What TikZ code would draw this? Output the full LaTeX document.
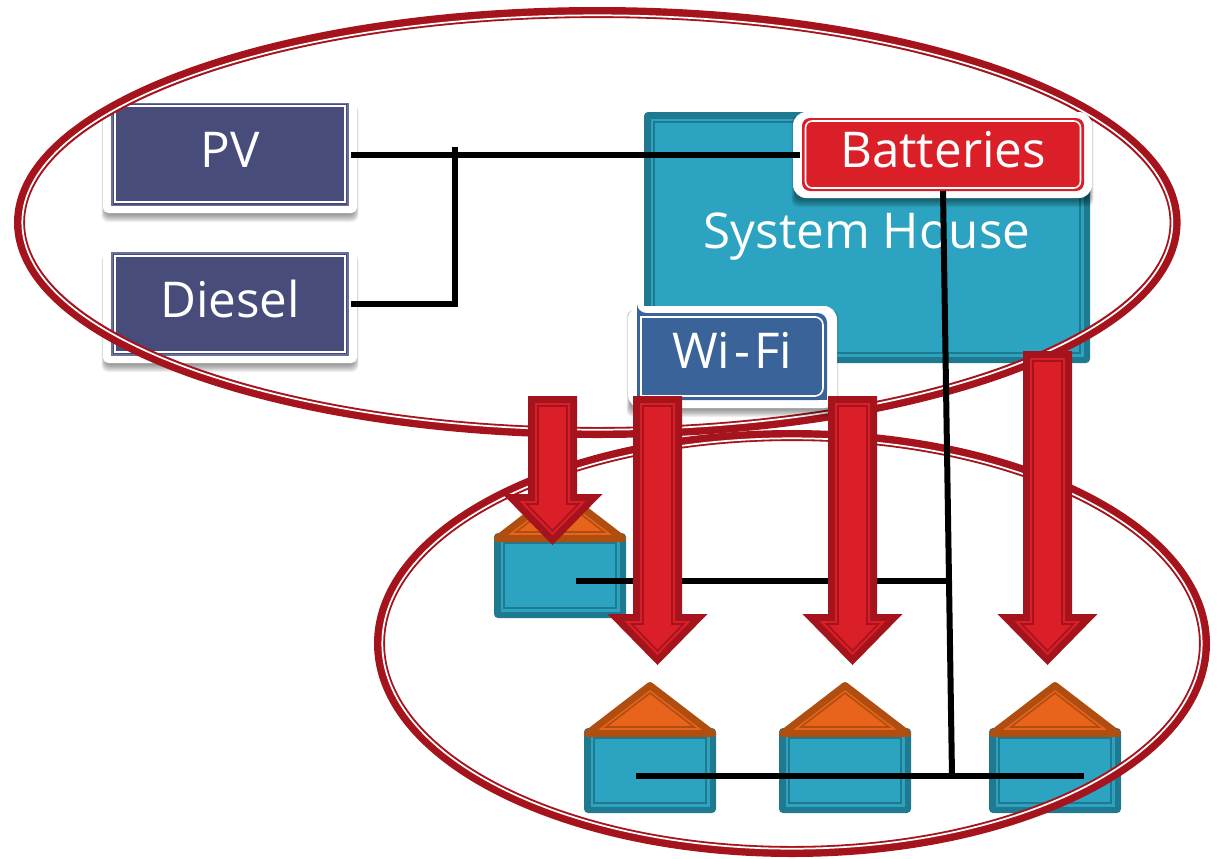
\documentclass[tikz,border=0pt]{standalone}
\usepackage{fontspec}
\setmainfont{Open Sans}
\usetikzlibrary{calc}
\definecolor{teal1}{HTML}{2CA3C0}
\definecolor{teal2}{HTML}{1F7A90}
\definecolor{navy1}{HTML}{484C7A}
\definecolor{navy2}{HTML}{6B6F9E}
\definecolor{blue1}{HTML}{3A6399}
\definecolor{red1}{HTML}{DA1F28}
\definecolor{red2}{HTML}{A5141C}
\definecolor{org1}{HTML}{E8641C}
\definecolor{org2}{HTML}{B04E10}
\tikzset{
  px/.style={x=0.75pt,y=-0.75pt},
  plate/.style={fill=white,rounded corners=4pt},
  boxlabel/.style={text=white,font=\fontsize{37}{44}\selectfont,inner sep=0pt,outer sep=0pt,rectangle,text height=19.5pt,text depth=0pt},
  wire/.style={draw=black,line width=4.5pt,line join=miter},
  ringouter/.style={draw=red2,line width=8.25pt},
  ringinner/.style={draw=white,line width=1.3pt},
}
% soft shadow under a plate: left, top, right, bottom
\newcommand{\softshadow}[4]{%
  \foreach \d in {1,...,8}{
    \fill[black,opacity=.06,rounded corners=5pt] ({#1-2+\d/2},{#2+4}) rectangle ({#3+2-\d/2},{#4+10-\d});
  }
}
% rounded box with band and thin inner line: left, top, right, bottom
\newcommand{\bandrect}[4]{%
  \fill[teal2,rounded corners=3pt] (#1,#2) rectangle (#3,#4);
  \fill[teal1] ({#1+6.5},{#2+6.5}) rectangle ({#3-6.5},{#4-6.5});
  \draw[teal2,line width=1.2pt] ({#1+10},{#2+10}) rectangle ({#3-10},{#4-10});
}
\newcommand{\houseshape}[2]{%
  \bandrect{#1}{#2+47}{#1+132}{#2+132}
  \draw[org2,fill=org1,line width=5.25pt,line join=round]
    ({#1+3.5},{#2+52.5}) -- ({#1+66},{#2+4.5}) -- ({#1+128.5},{#2+52.5}) -- cycle;
  \draw[org2,line width=1.2pt] ({#1+22},{#2+46}) -- ({#1+66},{#2+12}) -- ({#1+110},{#2+46}) -- cycle;
}
% inset polygon of a block arrow: d, cx, top, head y
\newcommand{\arrowpoly}[4]{
  ({#2-24.5+#1},{#3+#1}) -- ({#2-24.5+#1},{#4+#1}) -- ({#2-50+2.41*#1},{#4+#1}) --
  ({#2},{#4+51-1.41*#1}) -- ({#2+50-2.41*#1},{#4+#1}) -- ({#2+24.5-#1},{#4+#1}) --
  ({#2+24.5-#1},{#3+#1}) -- cycle}
\newcommand{\blockarrow}[3]{%
  \fill[red2] \arrowpoly{0}{#1}{#2}{#3};
  \fill[red1] \arrowpoly{7}{#1}{#2}{#3};
  \draw[red2,line width=1.2pt] \arrowpoly{10}{#1}{#2}{#3};
}
\begin{document}
\begin{tikzpicture}[px]
\useasboundingbox (0,0) rectangle (1218,858);
% system house
\bandrect{644}{112}{1090}{363}
\node[boxlabel] (house) at (867,235) {System House};
% PV and Diesel
\softshadow{103}{100}{357}{213}
\fill[plate] (103,100) rectangle (357,213);
\softshadow{103}{250}{357}{363}
\fill[plate] (103,250) rectangle (357,363);
\node[boxlabel,fill=navy1,draw=navy2,line width=.8pt,minimum width=177pt,minimum height=76.5pt] (pv) at (230,154.5) {PV};
\draw[white,line width=1.5pt] (115,106) rectangle (345,202);
\node[boxlabel,fill=navy1,draw=navy2,line width=.8pt,minimum width=177pt,minimum height=76.5pt] (diesel) at (230,304) {Diesel};
\draw[white,line width=1.5pt] (115,256) rectangle (345,352);
% houses
\houseshape{494}{486}
\houseshape{584}{681}
\houseshape{779}{681}
\houseshape{989}{681}
% rings
\draw[ringouter] (597.3,222.5) ellipse [x radius=577.8,y radius=210];
\draw[ringinner] (597.3,222.5) ellipse [x radius=575,y radius=207.2];
\draw[ringouter] (792,643.5) ellipse [x radius=412.5,y radius=208];
\draw[ringinner] (792,643.5) ellipse [x radius=409.7,y radius=205.2];
% batteries
\softshadow{793}{112}{1092}{198}
\fill[plate,rounded corners=10pt] (793,112) rectangle (1092,198);
\node[boxlabel,fill=red1,rounded corners=6pt,minimum width=211.5pt,minimum height=54.75pt] (batt) at (943,154.5) {Batteries};
\draw[white,line width=1.2pt,rounded corners=5pt] (805.5,121) rectangle (1080.5,188);
% wifi
\softshadow{628}{306}{837}{408}
\fill[white,rounded corners=10pt] (628,306) -- (837,306) -- (837,408) -- (628,408) -- cycle;
\fill[blue1,rounded corners=7pt] (637,313) -- (637,313) -- (827,313) -- (827,400) -- (637,400) -- cycle;
\fill[blue1] (637,313) rectangle (700,400);
\fill[blue1] (637,360) rectangle (827,400);
\node[boxlabel,minimum width=142.5pt,minimum height=65.25pt,text height=17.25pt] (wifi) at (732,356.5) {Wi\kern3pt-\kern3pt Fi};
\draw[white,line width=1.2pt] (641,396) -- (641,317) -- (816,317) [rounded corners=6pt] -- (823,317) -- (823,396) [sharp corners] -- cycle;
% connectors
\coordinate (tapa) at (576,581);
\coordinate (tapb) at (946,581);
\coordinate (busa) at (636,776);
\coordinate (busb) at (1084,776);
\coordinate (busj) at (952,776);
\coordinate (corner) at (455,304);
\coordinate (top) at (455,147);
\draw[wire,shorten <=2.25pt,shorten >=1.5pt] (pv.east) -- (batt.west);
\draw[wire,shorten <=2.25pt] (diesel.east) -- (corner) -- (top);
\draw[wire] (batt.south) -- (busj);
\draw[wire] (tapa) -- (tapb);
\draw[wire] (busa) -- (busb);
% arrows
\blockarrow{552.5}{396}{494}
\blockarrow{657.5}{396}{614}
\blockarrow{852.5}{396}{614}
\blockarrow{1047.5}{351}{614}
\end{tikzpicture}
\end{document}
